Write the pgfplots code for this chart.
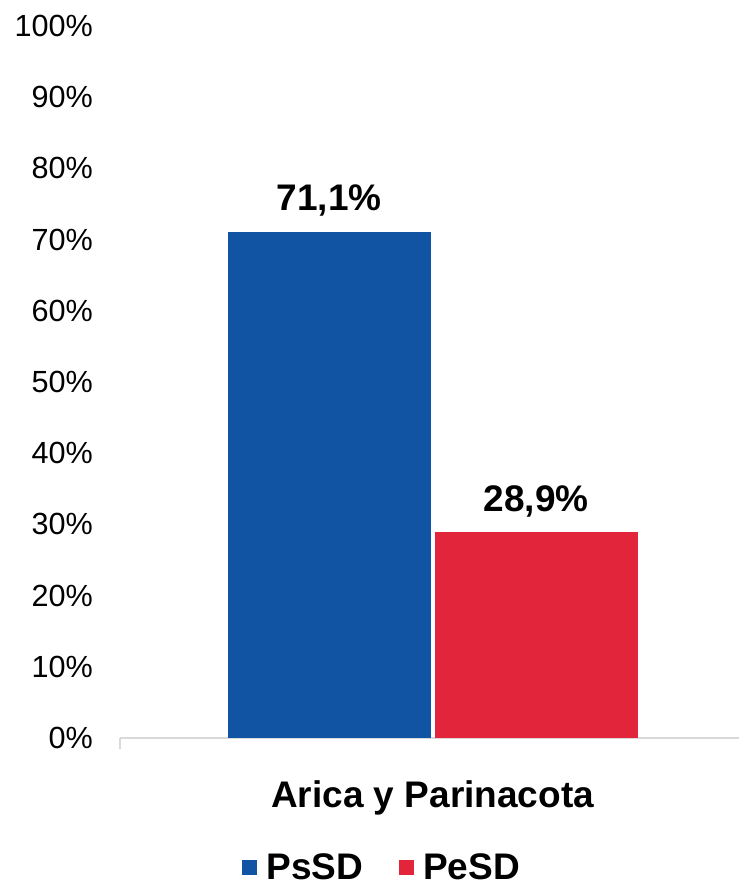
\documentclass[border=0pt]{standalone}
\usepackage{pgfplots}
\pgfplotsset{compat=1.18}
\usepackage{fontspec}
\setmainfont{Liberation Sans}
\definecolor{cblue}{HTML}{1254A4}
\definecolor{cred}{HTML}{E2253A}
\definecolor{axgray}{HTML}{D9D9D9}
\begin{document}
\begin{tikzpicture}
\useasboundingbox (-60pt,-73.5pt) rectangle (309.5pt,369pt);
\begin{axis}[
  at={(0,0)}, anchor=south west,
  scale only axis,
  width=309.5pt, height=356pt,
  ybar=2pt, bar width=101.5pt,
  xmin=-1.01, xmax=0.99, ymin=0, ymax=100,
  xtick={0}, xticklabels={Arica y Parinacota},
  ytick={0,10,...,100},
  yticklabel={\pgfmathprintnumber{\tick}\%},
  /pgf/number format/assume math mode=true,
  separate axis lines,
  axis x line*=bottom, axis y line*=left,
  x axis line style={draw=axgray, line width=1.2pt, -},
  y axis line style={draw=none},
  major tick length=0pt,
  tick style={draw=none},
  yticklabel style={font=\fontsize{15.3}{18}\selectfont, xshift=-10pt},
  xticklabel style={font=\bfseries\fontsize{18.5}{22}\selectfont, yshift=-18pt},
  extra x ticks={-1.01}, extra x tick labels={},
  extra x tick style={tick align=outside, major tick length=5.5pt, tick style={draw=axgray, line width=1.2pt}},
  nodes near coords={\pgfmathprintnumber[fixed,precision=1,fixed zerofill,use comma,assume math mode=true]{\pgfplotspointmeta}\%},
  nodes near coords style={font=\bfseries\fontsize{18.5}{22}\selectfont, anchor=south, yshift=4pt},
  legend columns=2,
  legend style={draw=none, at={(0.425,-0.182)}, anchor=center, font=\bfseries\fontsize{18.5}{22}\selectfont,
    /tikz/every odd column/.append style={column sep=2.5pt},
    /tikz/every even column/.append style={column sep=16pt}},
  legend image code/.code={\fill[#1, draw=none] (-2pt,-3.75pt) rectangle (5.5pt,3.75pt);},
  clip=false,
]
\addplot[fill=cblue, draw=none] coordinates {(0,71.1)};
\addplot[fill=cred, draw=none] coordinates {(0,28.9)};
\legend{PsSD,PeSD}
\end{axis}
\end{tikzpicture}
\end{document}
